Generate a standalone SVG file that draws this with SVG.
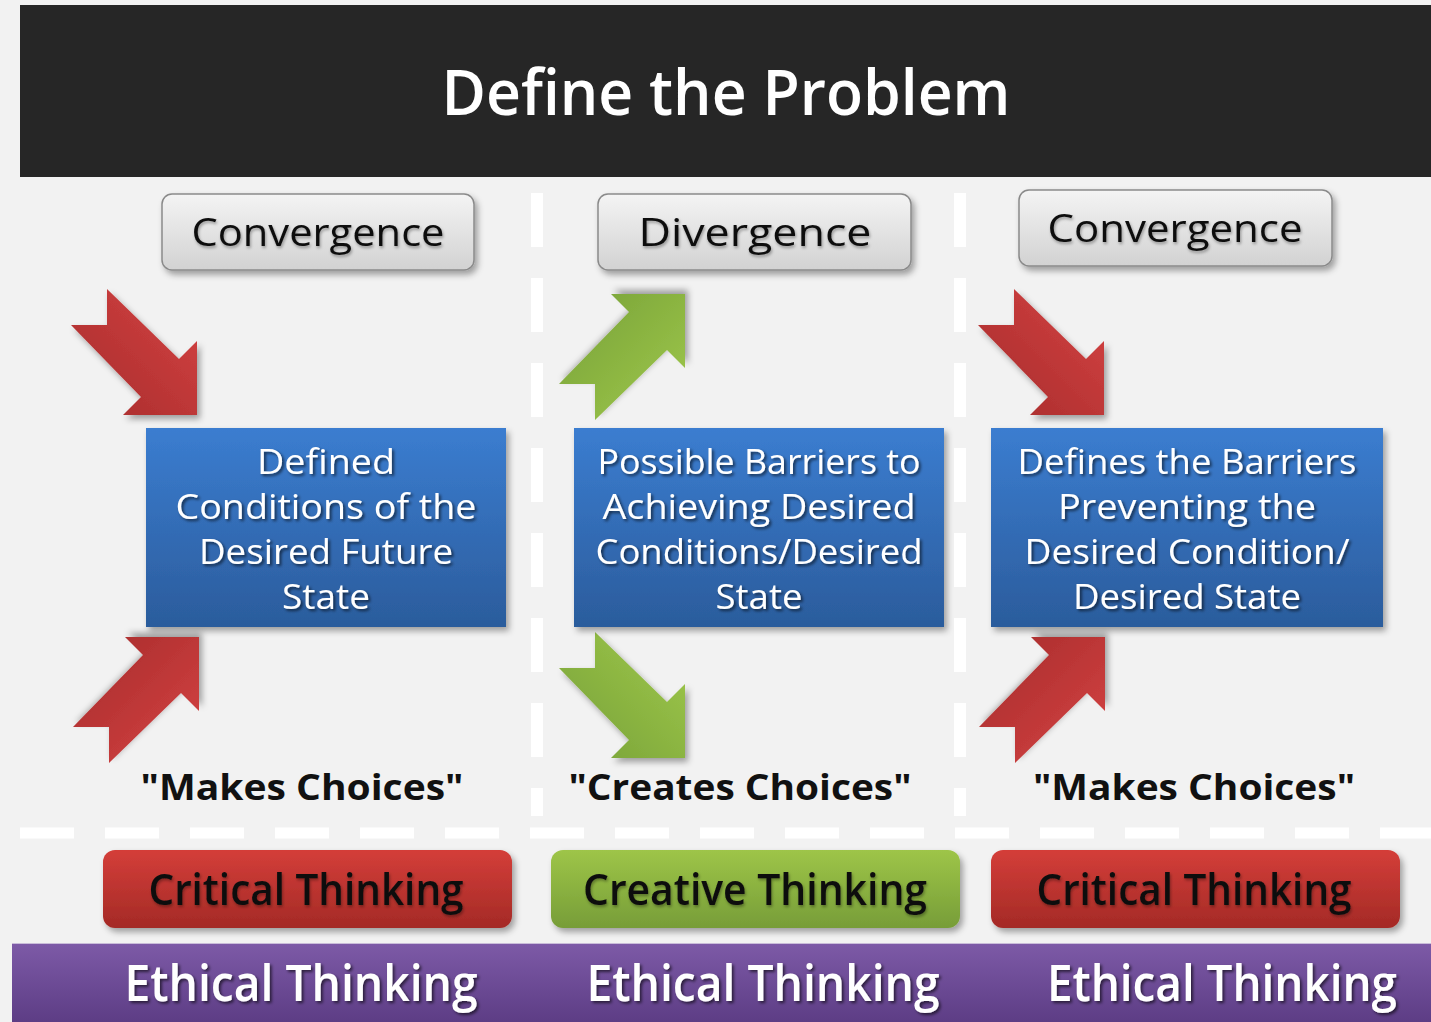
<svg xmlns="http://www.w3.org/2000/svg" xmlns:xlink="http://www.w3.org/1999/xlink" width="1431" height="1022" viewBox="0 0 1431 1022">
<style>
.btn{stroke:#8a8a8a;stroke-width:1.5}
.btnt{font-family:"Open Sans","Noto Sans",sans-serif;font-size:39px;fill:#111;text-anchor:middle}
.boxt{font-family:"Open Sans","Noto Sans",sans-serif;font-size:35px;fill:#fff;text-anchor:middle}
.qt{font-family:"Open Sans","Noto Sans",sans-serif;font-weight:bold;font-size:35px;fill:#111;text-anchor:middle}
.tt{font-family:"Open Sans","Noto Sans",sans-serif;font-weight:600;font-size:44px;fill:#111;text-anchor:middle}
.et{font-family:"Open Sans","Noto Sans",sans-serif;font-weight:600;font-size:50px;fill:#fff;text-anchor:middle}
.dash{fill:none;stroke:#fff;stroke-dasharray:54 31}
</style>
<defs>
<linearGradient id="gGray" x1="0" y1="0" x2="0" y2="1"><stop offset="0" stop-color="#f4f4f4"/><stop offset="1" stop-color="#d2d2d2"/></linearGradient>
<linearGradient id="gBlue" x1="0" y1="0" x2="0" y2="1"><stop offset="0" stop-color="#3b7dd0"/><stop offset="1" stop-color="#2b5c9c"/></linearGradient>
<linearGradient id="gRedBtn" x1="0" y1="0" x2="0" y2="1"><stop offset="0" stop-color="#d43e39"/><stop offset="1" stop-color="#a42a26"/></linearGradient>
<linearGradient id="gGreenBtn" x1="0" y1="0" x2="0" y2="1"><stop offset="0" stop-color="#9ec548"/><stop offset="1" stop-color="#779d38"/></linearGradient>
<linearGradient id="gPurple" x1="0" y1="0" x2="0" y2="1"><stop offset="0" stop-color="#7d5aa7"/><stop offset="1" stop-color="#5d3d85"/></linearGradient>
<linearGradient id="gRedArr" x1="1" y1="0" x2="0" y2="1"><stop offset="0" stop-color="#d64343"/><stop offset="1" stop-color="#a52b2b"/></linearGradient>
<linearGradient id="gGreenArr" x1="1" y1="0" x2="0" y2="1"><stop offset="0" stop-color="#a0c94c"/><stop offset="1" stop-color="#76a037"/></linearGradient>
<filter id="sh" x="-10%" y="-10%" width="130%" height="140%"><feDropShadow dx="3" dy="4" stdDeviation="3" flood-color="#000" flood-opacity="0.35"/></filter>
<filter id="tsh" x="-5%" y="-20%" width="110%" height="150%"><feDropShadow dx="2" dy="2" stdDeviation="1.5" flood-color="#000" flood-opacity="0.6"/></filter>
<filter id="tsl" x="-5%" y="-20%" width="110%" height="150%"><feDropShadow dx="1" dy="2" stdDeviation="1.5" flood-color="#000" flood-opacity="0.35"/></filter>
<path id="arr" d="M0,0 L-74,0 L-56,-18 L-126,-90 L-90,-90 L-90,-126 L-18,-56 L0,-74 Z"/>
</defs>
<rect x="0" y="0" width="1431" height="1022" fill="#f2f2f2"/>
<g id="title">
<rect x="20" y="5" width="1411" height="172" fill="#262626"/>
<text x="726" y="115" font-family="'Open Sans','Noto Sans',sans-serif" font-weight="600" font-size="63" fill="#fff" text-anchor="middle" textLength="569" lengthAdjust="spacingAndGlyphs">Define the Problem</text>
</g>
<g id="dividers">
<line class="dash" x1="537" y1="193" x2="537" y2="816" stroke-width="12"/>
<line class="dash" x1="960" y1="193" x2="960" y2="816" stroke-width="12"/>
<line class="dash" x1="20" y1="833" x2="1431" y2="833" stroke-width="11"/>
</g>
<g id="connectors">
<use xlink:href="#arr" transform="translate(197,415)" fill="url(#gRedArr)" filter="url(#sh)"/>
<use xlink:href="#arr" transform="translate(199,637) scale(1,-1)" fill="url(#gRedArr)" filter="url(#sh)"/>
<use xlink:href="#arr" transform="translate(685,294) scale(1,-1)" fill="url(#gGreenArr)" filter="url(#sh)"/>
<use xlink:href="#arr" transform="translate(685,758)" fill="url(#gGreenArr)" filter="url(#sh)"/>
<use xlink:href="#arr" transform="translate(1104,415)" fill="url(#gRedArr)" filter="url(#sh)"/>
<use xlink:href="#arr" transform="translate(1105,637) scale(1,-1)" fill="url(#gRedArr)" filter="url(#sh)"/>
</g>
<g id="conv1">
<rect class="btn" x="162" y="194" width="312" height="76" rx="10" fill="url(#gGray)" filter="url(#sh)"/>
<text class="btnt" x="318" y="246" textLength="253" lengthAdjust="spacingAndGlyphs" filter="url(#tsl)">Convergence</text>
</g>
<g id="div1">
<rect class="btn" x="598" y="194" width="313" height="76" rx="10" fill="url(#gGray)" filter="url(#sh)"/>
<text class="btnt" x="755" y="246" textLength="233" lengthAdjust="spacingAndGlyphs" filter="url(#tsl)">Divergence</text>
</g>
<g id="conv2">
<rect class="btn" x="1019" y="190" width="313" height="76" rx="10" fill="url(#gGray)" filter="url(#sh)"/>
<text class="btnt" x="1175" y="242" textLength="255" lengthAdjust="spacingAndGlyphs" filter="url(#tsl)">Convergence</text>
</g>
<g id="box1">
<rect x="146" y="428" width="360" height="199" fill="url(#gBlue)" filter="url(#sh)"/>
<g class="boxt" filter="url(#tsh)">
<text x="326" y="474" textLength="138" lengthAdjust="spacingAndGlyphs">Defined</text>
<text x="326" y="519" textLength="301" lengthAdjust="spacingAndGlyphs">Conditions of the</text>
<text x="326" y="564" textLength="254" lengthAdjust="spacingAndGlyphs">Desired Future</text>
<text x="326" y="609" textLength="88" lengthAdjust="spacingAndGlyphs">State</text>
</g>
</g>
<g id="box2">
<rect x="574" y="428" width="370" height="199" fill="url(#gBlue)" filter="url(#sh)"/>
<g class="boxt" filter="url(#tsh)">
<text x="759" y="474" textLength="323" lengthAdjust="spacingAndGlyphs">Possible Barriers to</text>
<text x="759" y="519" textLength="313" lengthAdjust="spacingAndGlyphs">Achieving Desired</text>
<text x="759" y="564" textLength="327" lengthAdjust="spacingAndGlyphs">Conditions/Desired</text>
<text x="759" y="609" textLength="87" lengthAdjust="spacingAndGlyphs">State</text>
</g>
</g>
<g id="box3">
<rect x="991" y="428" width="392" height="199" fill="url(#gBlue)" filter="url(#sh)"/>
<g class="boxt" filter="url(#tsh)">
<text x="1187" y="474" textLength="339" lengthAdjust="spacingAndGlyphs">Defines the Barriers</text>
<text x="1187" y="519" textLength="258" lengthAdjust="spacingAndGlyphs">Preventing the</text>
<text x="1187" y="564" textLength="325" lengthAdjust="spacingAndGlyphs">Desired Condition/</text>
<text x="1187" y="609" textLength="228" lengthAdjust="spacingAndGlyphs">Desired State</text>
</g>
</g>
<g id="quotes">
<text class="qt" x="302" y="800" textLength="323" lengthAdjust="spacingAndGlyphs">"Makes Choices"</text>
<text class="qt" x="740" y="800" textLength="343" lengthAdjust="spacingAndGlyphs">"Creates Choices"</text>
<text class="qt" x="1194" y="800" textLength="322" lengthAdjust="spacingAndGlyphs">"Makes Choices"</text>
</g>
<g id="crit1">
<rect x="103" y="850" width="409" height="78" rx="12" fill="url(#gRedBtn)" filter="url(#sh)"/>
<text class="tt" x="306" y="905" textLength="315" lengthAdjust="spacingAndGlyphs" filter="url(#tsl)">Critical Thinking</text>
</g>
<g id="creat">
<rect x="551" y="850" width="409" height="78" rx="12" fill="url(#gGreenBtn)" filter="url(#sh)"/>
<text class="tt" x="755" y="905" textLength="344" lengthAdjust="spacingAndGlyphs" filter="url(#tsl)">Creative Thinking</text>
</g>
<g id="crit2">
<rect x="991" y="850" width="409" height="78" rx="12" fill="url(#gRedBtn)" filter="url(#sh)"/>
<text class="tt" x="1194" y="905" textLength="315" lengthAdjust="spacingAndGlyphs" filter="url(#tsl)">Critical Thinking</text>
</g>
<g id="ethical">
<rect x="12" y="943" width="1419" height="79" fill="url(#gPurple)"/>
<line x1="12" y1="943.5" x2="1431" y2="943.5" stroke="#c9bcd9" stroke-width="1"/>
<g class="et" filter="url(#tsh)">
<text x="301" y="1001" textLength="353" lengthAdjust="spacingAndGlyphs">Ethical Thinking</text>
<text x="763" y="1001" textLength="353" lengthAdjust="spacingAndGlyphs">Ethical Thinking</text>
<text x="1222" y="1001" textLength="350" lengthAdjust="spacingAndGlyphs">Ethical Thinking</text>
</g>
</g>
</svg>
